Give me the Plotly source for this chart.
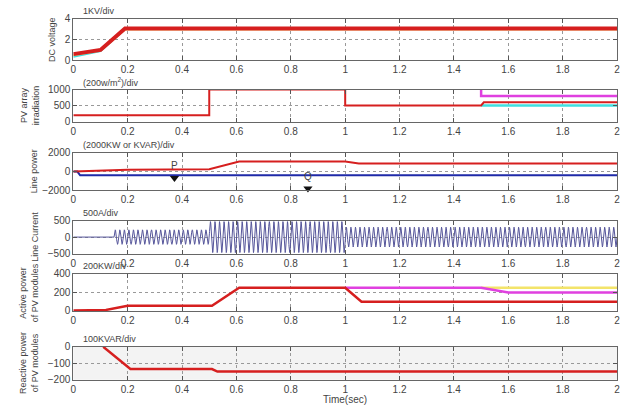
import numpy as np
import plotly.graph_objects as go

# ---------------- data ----------------
# DC voltage (kV)
dc_t = [0, 0.1, 0.19, 2.0]
dc_red = [0.6, 1.0, 3.05, 3.05]
dc_cyan = [0.35, 0.9, 3.0, 3.0]
dc_yellow = [0.5, 0.95, 2.95, 2.95]

# PV array irradiation (W/m2)
irr_t = [0, 0.5, 0.5, 1.0, 1.0, 1.5, 1.51, 2.0]
irr_red = [200, 200, 1000, 1000, 500, 500, 600, 600]
irr_mag_t = [1.5, 1.5, 2.0]
irr_mag = [1000, 800, 800]
irr_cyan_t = [1.5, 2.0]
irr_cyan = [500, 500]

# Line power (kW / kVAR)
p_t = [0, 0.12, 0.2, 0.5, 0.61, 1.0, 1.05, 2.0]
p_val = [0, 100, 200, 250, 1050, 1050, 850, 850]
q_t = [0, 0.015, 0.025, 2.0]
q_val = [0, 0, -400, -400]
pq_label_t = [0.372, 0.863]
pq_label_y = [560, -670]
pq_labels = ["P", "Q"]
pq_marker_y = [-670, -1800]

# Line current envelope (A)
cur_seg_t = [0, 0.15, 0.5, 1.0, 2.0]
cur_seg_amp = [0, 220, 470, 300]
cur_freq = 60

# Active power of PV modules (kW)
ap_t = [0, 0.12, 0.2, 0.51, 0.61, 1.0, 1.06, 2.0]
ap_red = [5, 10, 55, 55, 250, 250, 100, 100]
ap_mag_t = [1.0, 1.5, 1.6, 2.0]
ap_mag = [250, 250, 200, 200]
ap_yel_t = [1.5, 2.0]
ap_yel = [250, 250]

# Reactive power of PV modules (kVAR)
rp_t = [0.11, 0.21, 0.51, 0.53, 2.0]
rp_red = [0, -135, -135, -150, -150]

x_ticks = [0, 0.2, 0.4, 0.6, 0.8, 1, 1.2, 1.4, 1.6, 1.8, 2]
x_ticktext = ["0", "0.2", "0.4", "0.6", "0.8", "1", "1.2", "1.4", "1.6", "1.8", "2"]
y_ticks = [[0, 2, 4], [0, 500, 1000], [-2000, 0, 2000], [-500, 0, 500], [0, 200, 400], [-200, -100, 0]]
y_ranges = [[0, 4], [0, 1000], [-2000, 2000], [-500, 500], [0, 400], [-200, 0]]
panel_titles = ["1KV/div", "(200w/m<sup>2</sup>)/div", "(2000KW or KVAR)/div", "500A/div", "200KW/div", "100KVAR/div"]
y_titles = ["DC voltage", "PV array<br>irradiation", "Line power", "Line Current",
            "Active power<br>of PV modules", "Reactive power<br>of PV modules"]
y_title_x = [50, 27, 31, 32, 27, 27]

# ---------------- layout geometry (pixels) ----------------
W, H = 626, 413
x_left, x_right = 71, 620
panels_px = [(13, 56), (86, 119), (151, 190), (221, 255), (276, 314), (351, 385)]

RED = "#d61f1f"
CYAN = "#3fe0e0"
YEL = "#f3e46a"
MAG = "#e040e0"
BLUE = "#1f2aa8"
WAVE = "#55559a"

fig = go.Figure()

def add(x, y, color, width, i):
    ax = "" if i == 1 else str(i)
    fig.add_trace(go.Scatter(x=x, y=y, mode="lines", line=dict(color=color, width=width),
                             xaxis="x" + ax, yaxis="y" + ax, showlegend=False, hoverinfo="skip"))

# panel 1
add(dc_t, dc_cyan, CYAN, 2, 1)
add(dc_t, dc_yellow, YEL, 2, 1)
add(dc_t, dc_red, RED, 4, 1)
# panel 2
add(irr_cyan_t, irr_cyan, CYAN, 2.5, 2)
add(irr_mag_t, irr_mag, MAG, 2.5, 2)
add(irr_t, irr_red, RED, 2, 2)
# panel 3
add(q_t, q_val, BLUE, 2, 3)
add(p_t, p_val, RED, 2, 3)
fig.add_trace(go.Scatter(x=pq_label_t, y=pq_label_y, mode="text", text=pq_labels,
                         textfont=dict(size=10, color="#444", family="Liberation Sans"),
                         xaxis="x3", yaxis="y3", showlegend=False, hoverinfo="skip"))
fig.add_trace(go.Scatter(x=pq_label_t, y=pq_marker_y, mode="markers",
                         marker=dict(symbol="triangle-down", size=8, color="#111"),
                         xaxis="x3", yaxis="y3", showlegend=False, hoverinfo="skip", cliponaxis=False))
# panel 4: waveform built from envelope segments
cur_t = np.linspace(0, 2, 6001)
env = np.zeros_like(cur_t)
for k in range(len(cur_seg_amp)):
    m = (cur_t >= cur_seg_t[k]) & (cur_t < cur_seg_t[k + 1])
    env[m] = cur_seg_amp[k]
cur = env * np.sin(2 * np.pi * cur_freq * cur_t)
add(cur_t, cur, WAVE, 1, 4)
# panel 5
add(ap_yel_t, ap_yel, YEL, 2.5, 5)
add(ap_mag_t, ap_mag, MAG, 2.5, 5)
add(ap_t, ap_red, RED, 2.5, 5)
# panel 6
add(rp_t, rp_red, RED, 2.5, 6)

font = dict(family="Liberation Sans, Arial, sans-serif", size=10, color="#444")
layout = dict(width=W, height=H, margin=dict(l=0, r=0, t=0, b=0),
              paper_bgcolor="white", plot_bgcolor="white", font=font, showlegend=False)

annotations = []
shapes = []
for i, (top, bot) in enumerate(panels_px, start=1):
    ax = "" if i == 1 else str(i)
    ydom = [1 - bot / H, 1 - top / H]
    layout["xaxis" + ax] = dict(domain=[x_left / W, x_right / W], range=[0, 2], anchor="y" + ax,
                                tickvals=x_ticks, ticktext=x_ticktext, ticks="inside", ticklen=4,
                                tickcolor="#555", showline=True, linecolor="#666", linewidth=1,
                                mirror="ticks", showgrid=True, gridcolor="#999", griddash="dot",
                                gridwidth=1, zeroline=False, layer="above traces",
                                ticklabeloverflow="allow",
                                tickfont=dict(size=10, color="#444"), fixedrange=True)
    layout["yaxis" + ax] = dict(domain=ydom, range=y_ranges[i - 1], anchor="x" + ax,
                                tickvals=y_ticks[i - 1], ticks="inside", ticklen=4,
                                tickcolor="#555", showline=True, linecolor="#666", linewidth=1,
                                mirror="ticks", showgrid=True, gridcolor="#999", griddash="dot",
                                gridwidth=1, zeroline=False, layer="above traces",
                                ticklabeloverflow="allow",
                                tickfont=dict(size=10, color="#444"), fixedrange=True)
    # panel title
    annotations.append(dict(text=panel_titles[i - 1], x=79 / W, y=1 - (top - 8) / H,
                            xref="paper", yref="paper", xanchor="left", yanchor="middle",
                            showarrow=False, font=dict(size=9, color="#444")))
    # y-axis title
    annotations.append(dict(text=y_titles[i - 1], x=y_title_x[i - 1] / W,
                            y=1 - ((top + bot) / 2) / H, xref="paper", yref="paper",
                            xanchor="center", yanchor="middle", textangle=-90, showarrow=False,
                            font=dict(size=9, color="#444")))

shapes.append(dict(type="rect", xref="x6 domain", yref="y6 domain", x0=0, x1=1, y0=0, y1=1,
                   fillcolor="#f3f3f3", line=dict(width=0), layer="below"))
annotations.append(dict(text="Time(sec)", x=345 / W, y=1 - 405 / H, xref="paper", yref="paper",
                        xanchor="center", yanchor="middle", showarrow=False,
                        font=dict(size=10, color="#444")))
layout["annotations"] = annotations
layout["shapes"] = shapes
fig.update_layout(**layout)
fig.write_html("out.html", config={"displayModeBar": False, "staticPlot": True},
               post_script="document.body.style.margin='0';document.body.style.overflow='hidden';")
